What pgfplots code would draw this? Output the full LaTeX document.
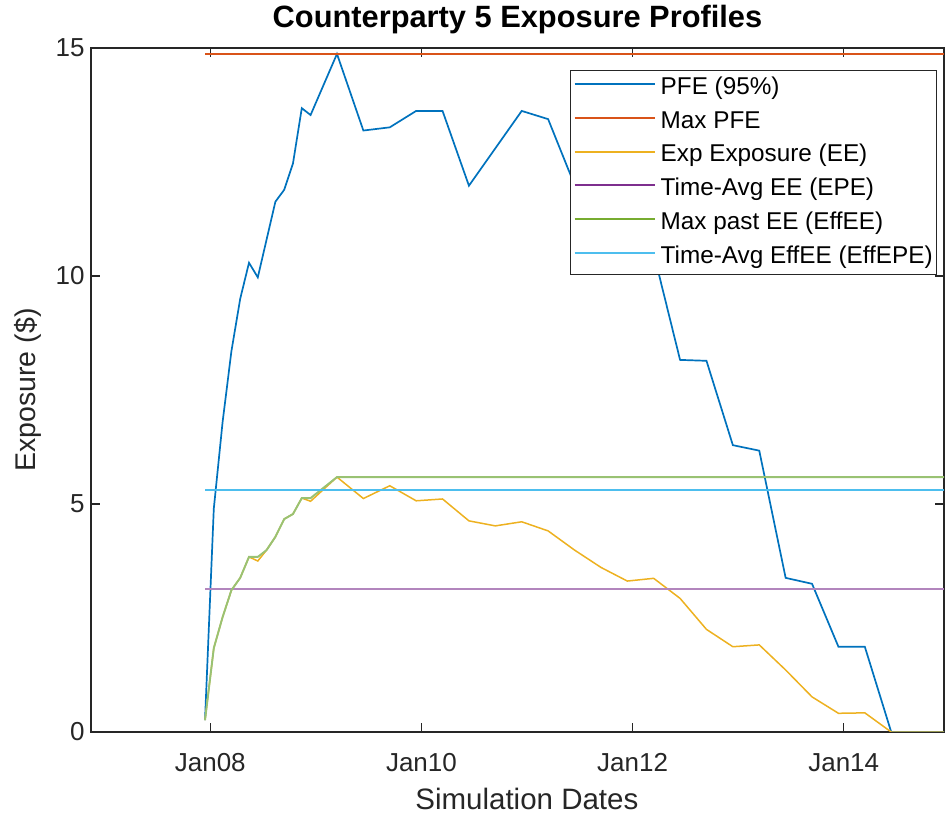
\documentclass[border=0pt]{standalone}
\usepackage{fontspec}
\setmainfont{Liberation Sans}
\usepackage{pgfplots}
\usepackage{pgfplotstable}
\pgfplotsset{compat=1.18}
\definecolor{mblue}{rgb}{0,0.447,0.741}
\definecolor{morange}{rgb}{0.85,0.325,0.098}
\definecolor{myellow}{rgb}{0.929,0.694,0.125}
\definecolor{mpurple}{rgb}{0.494,0.184,0.556}
\definecolor{mgreen}{rgb}{0.466,0.674,0.188}
\definecolor{mcyan}{rgb}{0.301,0.745,0.933}
\definecolor{lpurple}{rgb}{0.70,0.52,0.74}
\definecolor{lgreen}{rgb}{0.60,0.76,0.45}
\definecolor{axgray}{rgb}{0.15,0.15,0.15}
\newcommand{\lgimg}[1]{\textcolor{#1}{\rule[9.3bp]{80bp}{2.1bp}}\hspace{6bp}}

% x = years since 1 Jan 2008
\pgfplotstableread{
x       pfe     ee     effee
-0.05   2600    2600   2600
0.0333  49000   18400  18400
0.1167  68000   25200  25200
0.2     83500   31100  31100
0.2833  95000   33800  33800
0.3667  102900  38400  38400
0.45    99700   37500  38400
0.5333  108000  39900  39900
0.6167  116300  42800  42800
0.7     118900  46700  46700
0.7833  124700  47800  47800
0.8667  136800  51300  51300
0.95    135300  50600  51300
1.2     148700  55900  55900
1.45    131900  51200  55900
1.7     132600  54000  55900
1.95    136200  50700  55900
2.2     136200  51100  55900
2.45    119800  46300  55900
2.7     128000  45200  55900
2.95    136200  46100  55900
3.2     134400  44100  55900
3.45    120000  39900  55900
3.7     115000  36100  55900
3.95    110500  33100  55900
4.2     105000  33700  55900
4.45    81600   29300  55900
4.7     81400   22500  55900
4.95    62900   18700  55900
5.2     61700   19100  55900
5.45    33800   13600  55900
5.7     32500   7700   55900
5.95    18700   4100   55900
6.2     18700   4200   55900
6.45    0       0      55900
6.7     0       0      55900
6.95    0       0      55900
}\datatable

\pgfplotstableread{
x     maxpfe  epe    effepe
-0.05 148700  31300  53100
6.95  148700  31300  53100
}\flattable

\begin{document}
\begin{tikzpicture}
\useasboundingbox (0bp,0bp) rectangle (950bp,814bp);
\begin{axis}[
  at={(91bp,82bp)}, anchor=south west,
  scale only axis, width=853bp, height=684bp,
  xmin=-1.13, xmax=6.95, ymin=0, ymax=150000,
  scaled y ticks=false, scaled x ticks=false,
  xtick={0,2,4,6}, xticklabels={Jan08,Jan10,Jan12,Jan14},
  ytick={0,50000,100000,150000}, yticklabels={0,5,10,15},
  tick align=inside, major tick length=9bp,
  axis line style={draw=axgray, line width=1.1bp},
  every tick/.style={draw=axgray, line width=1.1bp},
  ticklabel style={font=\fontsize{26bp}{31bp}\selectfont, text=axgray},
  xticklabel style={anchor=base, yshift=-39.5bp},
  yticklabel style={xshift=-3bp},
  title={\textbf{Counterparty 5 Exposure Profiles}},
  title style={at={(0.5,1)}, anchor=base, yshift=15bp, font=\fontsize{30.8bp}{36bp}\selectfont, text=black},
  xlabel={Simulation Dates},
  ylabel={Exposure (\$)},
  every axis x label/.style={at={(rel axis cs:0.511,0)}, anchor=base, yshift=-77bp, inner sep=0pt, font=\fontsize{29.5bp}{34bp}\selectfont, text=axgray},
  every axis y label/.style={at={(rel axis cs:-0.0645,0.5)}, rotate=90, anchor=base, font=\fontsize{28.5bp}{34bp}\selectfont, text=axgray},
  legend style={at={(rel axis cs:0.992,0.968)}, anchor=north east, draw=axgray, line width=1.1bp, fill=white,
    font=\fontsize{24.3bp}{28bp}\selectfont, inner xsep=2bp, inner ysep=1bp,
    nodes={inner xsep=2bp, inner ysep=5.6bp, text height=17.5bp, text depth=5bp}},
  legend cell align=left,
  legend image code/.code={},
  clip=true,
]
\addplot[draw=mblue, line width=1.7bp] table[x=x, y=pfe] {\datatable};
\addlegendentry{\lgimg{mblue}PFE (95\%)}
\addplot[draw=morange, line width=1.7bp] table[x=x, y=maxpfe] {\flattable};
\addlegendentry{\lgimg{morange}Max PFE}
\addplot[draw=myellow, line width=1.5bp] table[x=x, y=ee] {\datatable};
\addlegendentry{\lgimg{myellow}Exp Exposure (EE)}
\addplot[draw=lpurple, line width=2.4bp] table[x=x, y=epe] {\flattable};
\addlegendentry{\lgimg{mpurple}Time-Avg EE (EPE)}
\addplot[draw=lgreen, line width=1.9bp] table[x=x, y=effee] {\datatable};
\addlegendentry{\lgimg{mgreen}Max past EE (EffEE)}
\addplot[draw=mcyan, line width=1.5bp] table[x=x, y=effepe] {\flattable};
\addlegendentry{\lgimg{mcyan}Time-Avg EffEE (EffEPE)\hspace{8bp}}
\node[anchor=base west, font=\fontsize{23bp}{27bp}\selectfont, text=axgray, inner sep=0pt] at (rel axis cs:0,1) [xshift=4bp, yshift=8bp] {×10\textsuperscript{4}};
\end{axis}
\end{tikzpicture}
\end{document}
